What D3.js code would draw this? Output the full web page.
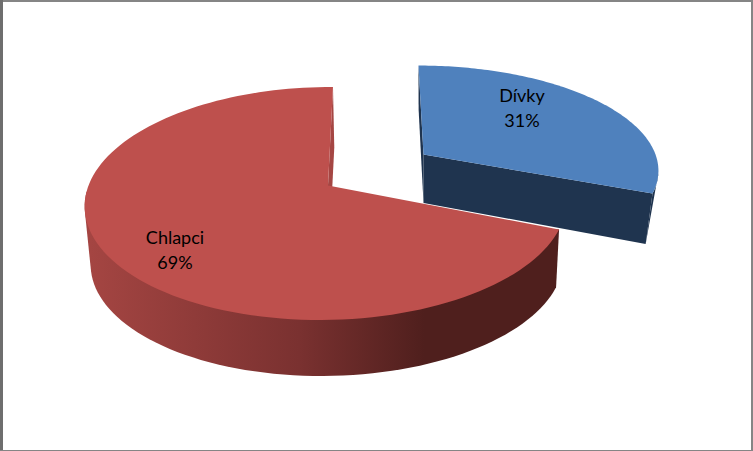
<!DOCTYPE html>
<html>
<head>
<meta charset="utf-8">
<script src="https://cdnjs.cloudflare.com/ajax/libs/d3/7.8.5/d3.min.js"></script>
<style>
html, body { margin: 0; padding: 0; background: #fff; }
svg { display: block; }
</style>
</head>
<body>
<div id="chart"></div>
<script>
// chart values
let categories = ['Dívky', 'Chlapci']
let values = [31, 69]
let percentLabels = ['31%', '69%']

const width = 753, height = 451

// perspective of each slice: apex on screen, disc size and tilt
let views = [
    { x0: 423.5, y0: 154.5, D: 232, G: -5.7, A: 100.8, g: 0, h: 0.133, bx: 423.5, by: 203, sx: 0.97, sy: 1.05 },
    { x0: 328, y0: 185.4, D: 238, G: 5.75, A: 113.7, g: 0.006, h: 0.155, bx: 329.4, by: 244, sx: 0.981, sy: 0.981 }
]
let topColors = ['#4f81bd', '#be504d']
let wallColors = ['#1f344f', '#a54643']
let labelPos = [[522, 102], [175, 244]]

let svg = d3.select('#chart').append('svg')
    .attr('width', width)
    .attr('height', height)

// gradient for the long side of the red slice
let defs = svg.append('defs')
let redSide = defs.append('linearGradient')
    .attr('id', 'redSide')
    .attr('gradientUnits', 'userSpaceOnUse')
    .attr('x1', 90).attr('x2', 555).attr('y1', 0).attr('y2', 0)
redSide.append('stop').attr('offset', '0%').attr('stop-color', '#a44542')
redSide.append('stop').attr('offset', '45%').attr('stop-color', '#7a3130')
redSide.append('stop').attr('offset', '72%').attr('stop-color', '#4f1f1d')
redSide.append('stop').attr('offset', '100%').attr('stop-color', '#4f1f1d')
let sideFills = ['#1f344f', 'url(#redSide)']

let project = (view, angle, r) => {
    let u = Math.sin(angle) * r
    let v = Math.cos(angle) * r
    let w = 1 + view.g * u + view.h * v
    return [view.x0 + (view.D * u + view.G * v) / w, view.y0 - view.A * v / w]
}
// same point on the lower rim
let lower = (view, p) => [
    view.bx + view.sx * (p[0] - view.x0),
    view.by + view.sy * (p[1] - view.y0)
]

let line = d3.line()
let pie = d3.pie().sort(null)
let slices = pie(values)

slices.forEach((slice, i) => {
    let view = views[i]
    let steps = d3.range(0, 121).map(k => slice.startAngle + (slice.endAngle - slice.startAngle) * k / 120)
    let rim = steps.map(a => project(view, a, 1))
    let rimLow = rim.map(p => lower(view, p))
    let apex = project(view, 0, 0)
    let apexLow = lower(view, apex)
    let g = svg.append('g').attr('class', 'slice')

    // outer side, hull gives the straight tangent edges at both ends.
    // the blue slice only shows a sliver next to its cut wall
    let sidePoints = i === 0
        ? rim.slice(108).concat([rimLow[120]])
        : d3.polygonHull(rim.slice(0, 76).concat(rimLow.slice(0, 76)))
    g.append('path')
        .attr('d', line(sidePoints) + 'Z')
        .attr('fill', sideFills[i])

    // wall at the start of the slice, the red one is hidden behind its own top
    if (i === 0) {
        g.append('path')
            .attr('d', line([rim[0], rimLow[0], apexLow, apex]) + 'Z')
            .attr('fill', wallColors[i])
    }

    // wall at the end of the slice
    g.append('path')
        .attr('d', line([apex, rim[120], rimLow[120], apexLow]) + 'Z')
        .attr('fill', wallColors[i])

    // top face
    g.append('path')
        .attr('d', line([apex].concat(rim)) + 'Z')
        .attr('fill', topColors[i])
})

// labels
categories.forEach((name, i) => {
    let t = svg.append('text')
        .attr('text-anchor', 'middle')
        .style('font-family', 'Lato, sans-serif')
        .style('font-size', '18px')
        .style('fill', '#000')
    t.append('tspan').attr('x', labelPos[i][0]).attr('y', labelPos[i][1]).text(name)
    t.append('tspan').attr('x', labelPos[i][0]).attr('y', labelPos[i][1] + 25).text(percentLabels[i])
})

// chart frame
svg.append('rect').attr('x', 0).attr('y', 0).attr('width', width).attr('height', 2).attr('fill', '#858585')
svg.append('rect').attr('x', 0).attr('y', 0).attr('width', 3).attr('height', height).attr('fill', '#6e6e6e')
svg.append('rect').attr('x', width - 2).attr('y', 0).attr('width', 2).attr('height', height).attr('fill', '#858585')
svg.append('rect').attr('x', 0).attr('y', height - 1).attr('width', width).attr('height', 1).attr('fill', '#858585')
</script>
</body>
</html>
